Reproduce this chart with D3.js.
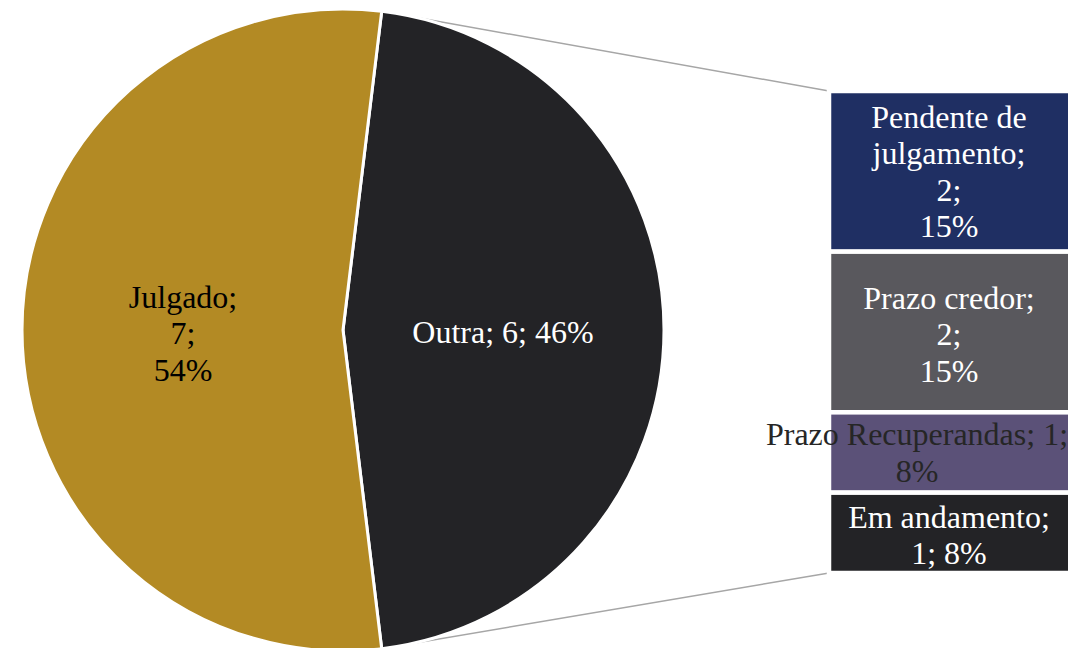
<!DOCTYPE html>
<html>
<head>
<meta charset="utf-8">
<script src="https://cdn.jsdelivr.net/npm/d3@7"></script>
<style>
  html, body { margin: 0; padding: 0; background: #ffffff; }
  svg { display: block; }
</style>
</head>
<body>
<svg id="chart" width="1068" height="648"></svg>
<script>
// ---- data ----
const pieCategories = ["Outra", "Julgado"];
const pieValues = [6, 7];
const pieLabels = [["Outra; 6; 46%"], ["Julgado;", "7;", "54%"]];
const pieColors = ["#232326", "#B38A24"];
const pieLabelColors = ["#ffffff", "#000000"];

const barCategories = ["Pendente de julgamento", "Prazo credor", "Prazo Recuperandas", "Em andamento"];
const barValues = [2, 2, 1, 1];
const barLabels = [
  ["Pendente de", "julgamento;", "2;", "15%"],
  ["Prazo credor;", "2;", "15%"],
  ["Prazo Recuperandas; 1;", "8%"],
  ["Em andamento;", "1; 8%"]
];
const barColors = ["#1F2F63", "#59585D", "#5B5178", "#232326"];
const barLabelColors = ["#ffffff", "#ffffff", "#262626", "#ffffff"];

// ---- layout ----
const svg = d3.select("#chart");
const cx = 343, cy = 330, R = 321;
const font = "'Liberation Serif', 'Times New Roman', serif";
const fontSize = 32, lineH = 36.5;

const total = d3.sum(pieValues);
const otherFrac = pieValues[0] / total;
const startA = Math.PI / 2 - Math.PI * otherFrac;

const pie = d3.pie().sort(null).value(d => d)
  .startAngle(startA).endAngle(startA + 2 * Math.PI);
const arcs = pie(pieValues);
const arc = d3.arc().innerRadius(0).outerRadius(R);

// bar of pie
const barX = 829, barW = 250, barTop = 91, barBottom = 573;
const barStack = d3.stack().keys(barCategories.map((_, i) => i))([
  Object.fromEntries(barValues.map((v, i) => [i, v]))
]);
const y = d3.scaleLinear().domain([0, d3.sum(barValues)]).range([barTop, barBottom]);

// connector lines
const pt = a => [cx + R * Math.sin(a), cy - R * Math.cos(a)];
const pTop = pt(arcs[0].startAngle), pBot = pt(arcs[0].endAngle);
svg.append("line").attr("x1", pTop[0]).attr("y1", pTop[1]).attr("x2", barX).attr("y2", y(0))
  .attr("stroke", "#A6A6A6").attr("stroke-width", 1.5);
svg.append("line").attr("x1", pBot[0]).attr("y1", pBot[1]).attr("x2", barX).attr("y2", y(d3.sum(barValues)))
  .attr("stroke", "#A6A6A6").attr("stroke-width", 1.5);

// pie slices
const g = svg.append("g").attr("transform", `translate(${cx},${cy})`);
g.selectAll("path").data(arcs).join("path")
  .attr("d", arc)
  .attr("fill", (d, i) => pieColors[i])
  .attr("stroke", "#ffffff")
  .attr("stroke-width", 3)
  .attr("stroke-linejoin", "round");

// pie labels
const pieLabelPos = [[503 - cx, 332 - cy], [183 - cx, 333 - cy]];
arcs.forEach((d, i) => {
  const lines = pieLabels[i];
  const t = g.append("text")
    .attr("font-family", font).attr("font-size", fontSize)
    .attr("fill", pieLabelColors[i]).attr("text-anchor", "middle");
  lines.forEach((ln, j) => {
    t.append("tspan").attr("x", pieLabelPos[i][0])
      .attr("y", pieLabelPos[i][1] + (j - (lines.length - 1) / 2) * lineH)
      .attr("dy", "0.35em").text(ln);
  });
});

// bar segments
const segs = barStack.map((s, i) => ({ i, y0: s[0][0], y1: s[0][1] }));
svg.selectAll("rect.seg").data(segs).join("rect")
  .attr("class", "seg")
  .attr("x", barX).attr("width", barW)
  .attr("y", d => y(d.y0)).attr("height", d => y(d.y1) - y(d.y0))
  .attr("fill", d => barColors[d.i])
  .attr("stroke", "#ffffff").attr("stroke-width", 4.5);

// bar labels (Excel shifts an overflowing label to stay inside the chart)
const labelCx = [949, 949, 917, 949];
const labelDy = [0, 2, 0, 2];
segs.forEach(d => {
  const lines = barLabels[d.i];
  const mid = (y(d.y0) + y(d.y1)) / 2 + labelDy[d.i];
  const t = svg.append("text")
    .attr("font-family", font).attr("font-size", fontSize)
    .attr("fill", barLabelColors[d.i]).attr("text-anchor", "middle");
  lines.forEach((ln, j) => {
    t.append("tspan").attr("x", labelCx[d.i])
      .attr("y", mid + (j - (lines.length - 1) / 2) * lineH)
      .attr("dy", "0.35em").text(ln);
  });
});
</script>
</body>
</html>
